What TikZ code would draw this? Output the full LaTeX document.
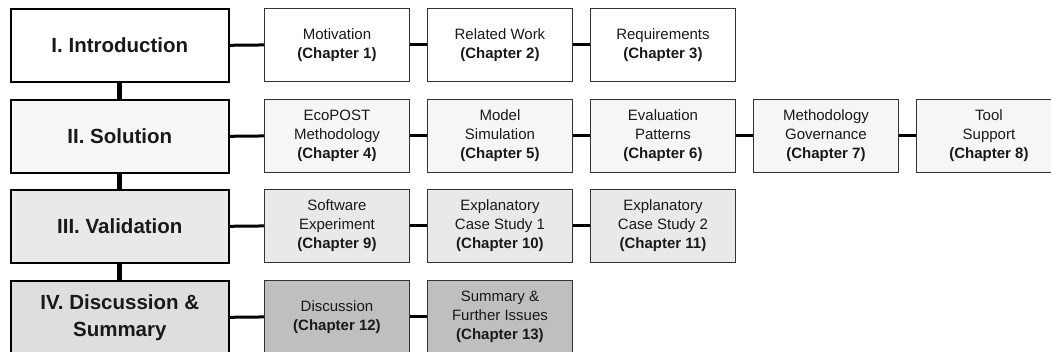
\documentclass[tikz,border=0pt]{standalone}
\usepackage{fontspec}
\setmainfont{Liberation Sans}
\begin{document}
\begin{tikzpicture}[x=1pt,y=-1pt,
  part/.style={draw=black, line width=1.6pt, minimum width=218pt, minimum height=73pt,
    anchor=north west, inner sep=0pt, align=center, font=\fontsize{20.5}{27}\selectfont\bfseries, text=black!90},
  chap/.style={draw=black!80, line width=0.9pt, minimum width=145pt, minimum height=73pt,
    anchor=north west, inner sep=0pt, align=center, font=\fontsize{15}{19}\selectfont, text=black!90},
  spine/.style={line width=5pt, black},
  link/.style={line width=3pt, black}]
\useasboundingbox (0,0) rectangle (1051,352);
\clip (0,0) rectangle (1051,352);
\definecolor{rowA}{gray}{1.0}
\definecolor{rowB}{gray}{0.965}
\definecolor{rowC}{gray}{0.915}
\definecolor{rowD}{gray}{0.87}
\definecolor{rowDchap}{gray}{0.75}

% parts
\node[part, fill=rowA] (p1) at (10,8) {I. Introduction};
\node[part, fill=rowB] (p2) at (10,99) {II. Solution};
\node[part, fill=rowC] (p3) at (10,189) {III. Validation};
\node[part, fill=rowD] (p4) at (10,280) {IV. Discussion \&\\Summary};

% chapters
\node[chap, fill=rowA] (c1) at (264,8) {Motivation\\\textbf{(Chapter 1)}};
\node[chap, fill=rowA] (c2) at (427,8) {Related Work\\\textbf{(Chapter 2)}};
\node[chap, fill=rowA] (c3) at (590,8) {Requirements\\\textbf{(Chapter 3)}};

\node[chap, fill=rowB] (c4) at (264,99) {EcoPOST\\Methodology\\\textbf{(Chapter 4)}};
\node[chap, fill=rowB] (c5) at (427,99) {Model\\Simulation\\\textbf{(Chapter 5)}};
\node[chap, fill=rowB] (c6) at (590,99) {Evaluation\\Patterns\\\textbf{(Chapter 6)}};
\node[chap, fill=rowB] (c7) at (753,99) {Methodology\\Governance\\\textbf{(Chapter 7)}};
\node[chap, fill=rowB] (c8) at (916,99) {Tool\\Support\\\textbf{(Chapter 8)}};

\node[chap, fill=rowC] (c9) at (264,189) {Software\\Experiment\\\textbf{(Chapter 9)}};
\node[chap, fill=rowC] (c10) at (427,189) {Explanatory\\Case Study 1\\\textbf{(Chapter 10)}};
\node[chap, fill=rowC] (c11) at (590,189) {Explanatory\\Case Study 2\\\textbf{(Chapter 11)}};

\node[chap, fill=rowDchap] (c12) at (264,280) {Discussion\\\textbf{(Chapter 12)}};
\node[chap, fill=rowDchap] (c13) at (427,280) {Summary \&\\Further Issues\\\textbf{(Chapter 13)}};

% spine between parts
\draw[spine] (p1.south) -- (p2.north);
\draw[spine] (p2.south) -- (p3.north);
\draw[spine] (p3.south) -- (p4.north);

% links along each row
\draw[link] (p1.east) -- (c1.west);
\draw[link] (c1.east) -- (c2.west);
\draw[link] (c2.east) -- (c3.west);
\draw[link] (p2.east) -- (c4.west);
\draw[link] (c4.east) -- (c5.west);
\draw[link] (c5.east) -- (c6.west);
\draw[link] (c6.east) -- (c7.west);
\draw[link] (c7.east) -- (c8.west);
\draw[link] (p3.east) -- (c9.west);
\draw[link] (c9.east) -- (c10.west);
\draw[link] (c10.east) -- (c11.west);
\draw[link] (p4.east) -- (c12.west);
\draw[link] (c12.east) -- (c13.west);
\end{tikzpicture}
\end{document}
